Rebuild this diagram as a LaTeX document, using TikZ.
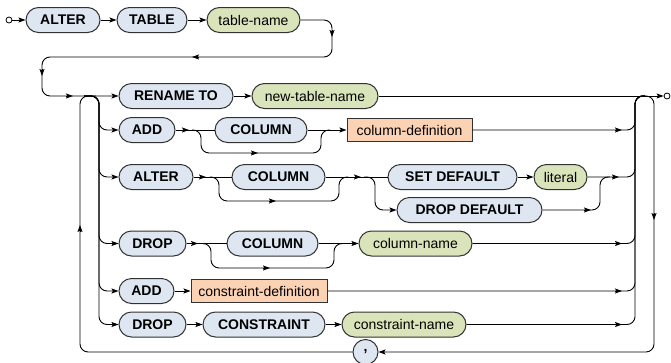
\documentclass[tikz,border=0pt]{standalone}
\usepackage{fontspec}
\setmainfont{Liberation Sans}
\usetikzlibrary{arrows.meta}
\definecolor{kwfill}{RGB}{221,230,241}
\definecolor{ntfill}{RGB}{217,228,186}
\definecolor{rectfill}{RGB}{251,210,180}
\definecolor{bordc}{RGB}{50,50,50}
\newcommand\arR[2]{\draw[tip] (#1-7,#2) -- (#1,#2);}
\newcommand\arL[2]{\draw[tip] (#1+7,#2) -- (#1,#2);}
\newcommand\arD[2]{\draw[tip] (#1,#2-7) -- (#1,#2);}
\newcommand\arU[2]{\draw[tip] (#1,#2+7) -- (#1,#2);}
\begin{document}
\begin{tikzpicture}[x=1pt,y=-1pt,line width=0.9pt,
  box/.style={draw=bordc,line width=1pt,minimum height=25pt,inner sep=0pt,font=\fontsize{14}{16}\selectfont},
  kw/.style={box,fill=kwfill,rounded corners=12.5pt,font=\fontsize{14}{16}\selectfont\bfseries},
  nt/.style={box,fill=ntfill,rounded corners=12.5pt},
  rectbox/.style={box,fill=rectfill,minimum height=23pt},
  term/.style={circle,draw,fill=white,minimum size=6pt,inner sep=0pt,line width=0.8pt},
  conn/.style={draw,rounded corners=8pt},
  tip/.style={-{Stealth[length=7pt,width=5pt,inset=1.4pt]}}]
\useasboundingbox (0,0) rectangle (671,362);
% row 0
\node[term] (start) at (9,20) {};
\node[kw,minimum width=74pt] (alter) at (63,20) {ALTER};
\node[kw,minimum width=70pt] (table) at (152,20) {TABLE};
\node[nt,minimum width=93pt] (tname) at (253.5,20) {table-name};
% row 1
\node[kw,minimum width=114pt] (rename) at (176,96) {RENAME TO};
\node[nt,minimum width=126pt] (newtname) at (315,96) {new-table-name};
\node[term] (end) at (667,96) {};
% row 2
\node[kw,minimum width=56pt] (add1) at (147,130) {ADD};
\node[kw,minimum width=92pt] (col1) at (261,130) {COLUMN};
\node[rectbox,minimum width=125pt] (coldef) at (409.5,130) {column-definition};
% row 3
\node[kw,minimum width=74pt] (alter2) at (156,177) {ALTER};
\node[kw,minimum width=93pt] (col2) at (278.5,177) {COLUMN};
\node[kw,minimum width=129pt] (setdef) at (452.5,177) {SET DEFAULT};
\node[nt,minimum width=53pt] (literal) at (560.5,177) {literal};
\node[kw,minimum width=145pt] (dropdef) at (469.5,210) {DROP DEFAULT};
% row 4
\node[kw,minimum width=67pt] (drop1) at (152.5,243.5) {DROP};
\node[kw,minimum width=91pt] (col3) at (272.5,243.5) {COLUMN};
\node[nt,minimum width=113pt] (colname) at (415.5,243.5) {column-name};
% row 5
\node[kw,minimum width=55pt] (add2) at (146.5,291) {ADD};
\node[rectbox,minimum width=136pt] (consdef) at (259,291) {constraint-definition};
% row 6
\node[kw,minimum width=67pt] (drop2) at (152.5,324.5) {DROP};
\node[kw,minimum width=122pt] (constraint) at (264,324.5) {CONSTRAINT};
\node[nt,minimum width=124pt] (consname) at (404,324.5) {constraint-name};
% loop comma
\node[kw,circle,minimum size=25pt,rounded corners=0pt] (comma) at (365.5,352) {,};

% row 0 connectors
\draw[tip] (start) -- (alter);
\draw[tip] (alter) -- (table);
\draw[tip] (table) -- (tname);
\draw[conn,tip] (tname.east) -- (332,20) -- (332,57) -- (42,57) -- (42,96) -- (rename.west);
\arD{332}{37} \arL{192}{57} \arD{42}{76} \arR{73}{96}
% loop left
\draw[conn] (comma.west) -- (80,352) -- (80,96) -- (96,96);
\arU{80}{225}
% branches
\draw[conn,tip] (84,96) -- (99,96) -- (99,130) -- (add1.west);
\draw[conn,tip] (84,96) -- (99,96) -- (99,177) -- (alter2.west);
\draw[conn,tip] (84,96) -- (99,96) -- (99,243.5) -- (drop1.west);
\draw[conn,tip] (84,96) -- (99,96) -- (99,291) -- (add2.west);
\draw[conn,tip] (84,96) -- (99,96) -- (99,324.5) -- (drop2.west);
% row 1
\draw[tip] (rename) -- (newtname);
\draw[tip] (newtname) -- (end);
% row 2
\draw (add1) -- (col1); \arR{189}{130}
\draw[conn] (192,130) -- (201,130) -- (201,153) -- (321,153) -- (321,130) -- (330,130);
\arR{258}{153}
\draw[tip] (col1) -- (coldef);
\draw[conn] (coldef.east) -- (635,130) -- (635,96) -- (645,96); \arR{622}{130}
% row 3
\draw (alter2) -- (col2); \arR{206}{177}
\draw[conn] (210,177) -- (219,177) -- (219,201) -- (339,201) -- (339,177) -- (348,177);
\arR{276}{201}
\draw (col2) -- (setdef); \arR{361}{177}
\draw[conn,tip] (364,177) -- (375,177) -- (375,210) -- (dropdef.west);
\draw[tip] (setdef) -- (literal);
\draw[conn] (literal.east) -- (635,177) -- (635,96) -- (645,96); \arR{619}{177}
\draw[conn] (dropdef.east) -- (600,210) -- (600,177) -- (610,177); \arR{591}{210}
% row 4
\draw (drop1) -- (col3); \arR{198}{243.5}
\draw[conn] (202,243.5) -- (211,243.5) -- (211,268) -- (334,268) -- (334,243.5) -- (343,243.5);
\arR{270}{268}
\draw[tip] (col3) -- (colname);
\draw[conn] (colname.east) -- (635,243.5) -- (635,96) -- (645,96); \arR{622}{243.5}
% row 5
\draw[tip] (add2) -- (consdef);
\draw[conn] (consdef.east) -- (635,291) -- (635,96) -- (645,96); \arR{622}{291}
% row 6
\draw[tip] (drop2) -- (constraint);
\draw[tip] (constraint) -- (consname);
\draw[conn] (consname.east) -- (635,324.5) -- (635,96) -- (645,96); \arR{622}{324.5}
% loop right
\draw[conn,tip] (640,96) -- (654,96) -- (654,352) -- (comma.east);
\arD{654}{220}
\end{tikzpicture}
\end{document}
